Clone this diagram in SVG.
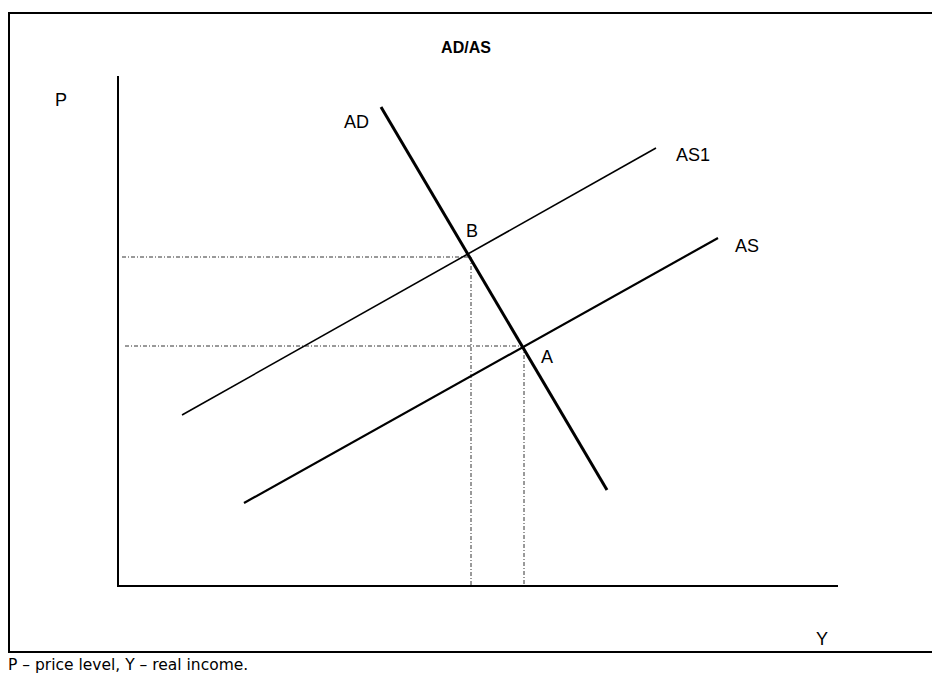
<svg xmlns="http://www.w3.org/2000/svg" width="932" height="677" viewBox="0 0 932 677">
<style>
.lbl{font-family:"Liberation Sans",Arial,sans-serif;font-size:18px;fill:#000}
.ttl{font-family:"Liberation Sans",Arial,sans-serif;font-size:16px;font-weight:bold;fill:#000}
.cap{font-family:"DejaVu Sans",sans-serif;font-size:15.5px;fill:#000}
.dot{stroke:#000;stroke-width:0.8;stroke-dasharray:4,2,1,2;fill:none}
</style>
<rect x="0" y="0" width="932" height="677" fill="#fff"/>
<rect id="frame" x="9" y="13" width="930" height="639" fill="none" stroke="#000" stroke-width="2"/>
<text class="ttl" x="466" y="53" text-anchor="middle">AD/AS</text>
<g id="axes" stroke="#000" stroke-width="2">
<line x1="118" y1="76" x2="118" y2="587"/>
<line x1="117" y1="586" x2="838" y2="586"/>
</g>
<g id="connectors">
<line class="dot" x1="122" y1="257" x2="468" y2="257"/>
<line class="dot" x1="471" y1="257" x2="471" y2="585"/>
<line class="dot" x1="125" y1="346" x2="523" y2="346"/>
<line class="dot" x1="524" y1="346" x2="524" y2="585"/>
<line id="AD" x1="381" y1="107" x2="607" y2="490" stroke="#000" stroke-width="3"/>
<line id="AS1" x1="182" y1="415" x2="656" y2="148" stroke="#000" stroke-width="1.6"/>
<line id="AS" x1="244" y1="503" x2="718" y2="238" stroke="#000" stroke-width="2.2"/>
</g>
<g id="labels">
<text class="lbl" x="55" y="106">P</text>
<text class="lbl" x="344" y="128">AD</text>
<text class="lbl" x="466" y="237">B</text>
<text class="lbl" x="541" y="363">A</text>
<text class="lbl" x="676" y="161">AS1</text>
<text class="lbl" x="735" y="252">AS</text>
<text class="lbl" x="816" y="645">Y</text>
</g>
<text class="cap" x="8" y="670">P – price level, Y – real income.</text>
</svg>
